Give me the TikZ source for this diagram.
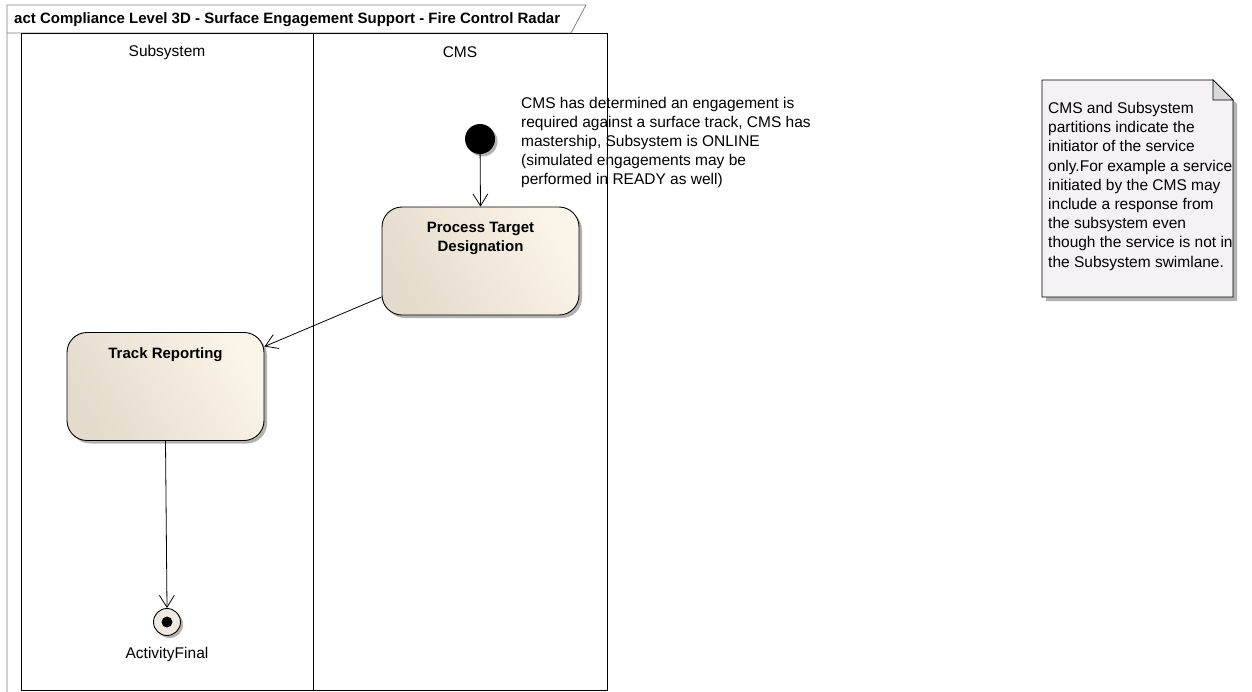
\documentclass[tikz,border=0pt]{standalone}
\usepackage{fontspec}
\setmainfont{Liberation Sans}
\usetikzlibrary{arrows.meta,shadows,calc}
\definecolor{boxL}{HTML}{E4DBCD}
\definecolor{boxR}{HTML}{FBF4E8}
\definecolor{noteF}{HTML}{F5F1F5}
\definecolor{frameG}{HTML}{808080}
\tikzset{
  lane/.style={draw=black, line width=0.9pt},
  action/.style={draw=black, line width=0.9pt, rounded corners=20pt, minimum width=197pt, minimum height=108pt,
    left color=boxL, right color=boxR, shading angle=120,
    drop shadow={shadow xshift=3pt, shadow yshift=-3pt, fill=black!30, opacity=1}},
  acttext/.style={font=\fontsize{15}{19}\selectfont\bfseries, align=center, anchor=north, inner sep=0pt},
  flow/.style={draw=black, line width=0.8pt, -{Straight Barb[length=12pt,width=15pt,line width=0.8pt]}},
  txt/.style={font=\fontsize{15.5}{19}\selectfont, align=left, inner sep=0pt},
  lbl/.style={font=\fontsize{15.5}{18.6}\selectfont, inner sep=0pt},
}
\begin{document}
\begin{tikzpicture}[x=1pt,y=-1pt]
\useasboundingbox (0,0) rectangle (1252,691);
\fill[white] (0,0) rectangle (1252,691);
% frame
\draw[frameG, line width=0.8pt] (7,693) -- (7,5) -- (586,5) -- (571,33) -- (7,33);
\node[anchor=west, inner sep=0pt, font=\fontsize{15}{18}\selectfont\bfseries] (title) at (14,20) {act Compliance Level 3D - Surface Engagement Support - Fire Control Radar};
% lanes
\draw[lane] (21,33) rectangle (607,690);
\draw[lane] (313,33) -- (313,690);
\node[lbl] (l1) at (167,52) {Subsystem};
\node[lbl] (l2) at (460,52) {CMS};
% initial
\node[circle, fill=black, minimum size=30pt, inner sep=0pt,
  drop shadow={shadow xshift=2.5pt, shadow yshift=-2.5pt, fill=black!30, opacity=1}] (init) at (480,139) {};
% actions
\node[action] (ptd) at (480.5,261) {};
\node[acttext] (ptdt) at (480.5,221.5) {Process Target\\Designation};
\node[action] (tr) at (165.5,386.5) {};
\node[acttext] (trt) at (165.5,347.5) {Track Reporting};
% final
\node[circle, draw=black, line width=0.9pt, fill=boxL!60, minimum size=27pt, inner sep=0pt,
  drop shadow={shadow xshift=2.5pt, shadow yshift=-2.5pt, fill=black!30, opacity=1}] (fin) at (167,622) {};
\fill[black] (fin.center) circle (5.5pt);
\node[lbl] (finl) at (167,654) {ActivityFinal};
% flows
\draw[flow] (init) -- (ptd.north);
\draw[flow] (ptd.200.5) -- (tr.22);
\draw[flow] (tr.south) -- (fin.north);
% note text
\node[txt, anchor=north west] (n1) at (521,97.5) {CMS has determined an engagement is\\required against a surface track, CMS has\\mastership, Subsystem is ONLINE\\(simulated engagements may be\\performed in READY as well)};
% note
\fill[black!30] (1046,84) -- (1217,84) -- (1237,104) -- (1237,301) -- (1046,301) -- cycle;
\draw[black, line width=0.9pt, fill=noteF] (1042,80) -- (1213,80) -- (1233,100) -- (1233,297) -- (1042,297) -- cycle;
\draw[black, line width=0.7pt, fill=black!15] (1213,80) -- (1213,100) -- (1233,100) -- cycle;
\node[txt, anchor=north west, font=\fontsize{15.5}{19.2}\selectfont] (n2) at (1048,102) {CMS and Subsystem\\partitions indicate the\\initiator of the service\\only.For example a service\\initiated by the CMS may\\include a response from\\the subsystem even\\though the service is not in\\the Subsystem swimlane.};
\end{tikzpicture}
\end{document}
